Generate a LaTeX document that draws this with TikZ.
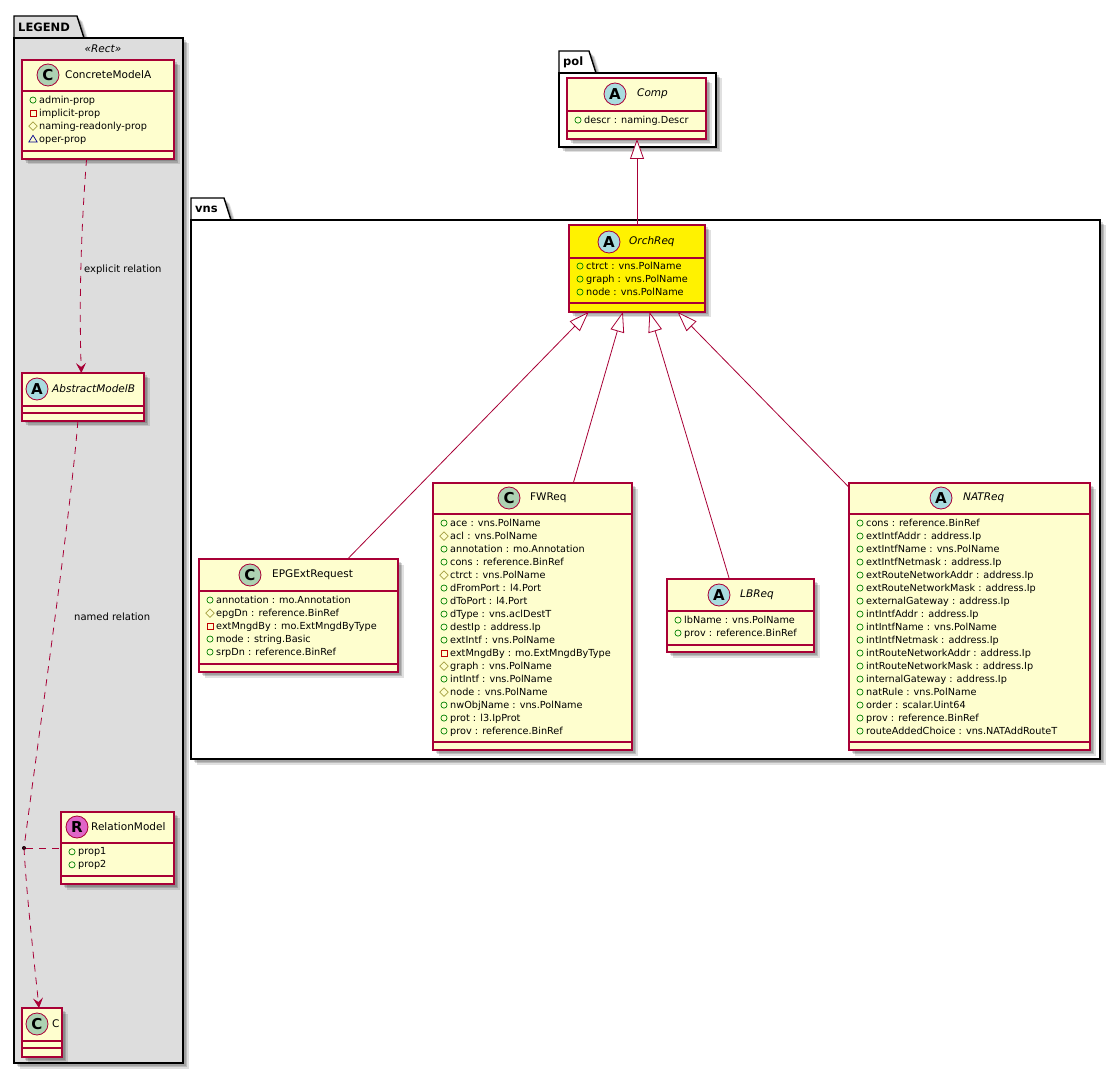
\documentclass[tikz,border=0pt]{standalone}
\usepackage{fontspec}
\setmainfont{DejaVu Sans}
\usepackage{tikz}
\usetikzlibrary{arrows.meta,shadows,calc}
\definecolor{umlRed}{HTML}{A80036}
\definecolor{umlCream}{HTML}{FEFECE}
\definecolor{spotC}{HTML}{ADD1B2}
\definecolor{spotA}{HTML}{A9DCDF}
\definecolor{spotR}{HTML}{E065C8}
\definecolor{legendGray}{HTML}{DDDDDD}
\newcommand{\attrFont}{\fontsize{9.7}{13}\selectfont}
\newcommand{\iconPub}{%
  \begin{tikzpicture}[x=1pt,y=1pt,baseline=0pt]
    \useasboundingbox(0,-1)rectangle(10,7);
    \draw[line width=0.7pt,draw=green!50!black](3.8,3)circle(3.1);
  \end{tikzpicture}}
\newcommand{\iconProt}{%
  \begin{tikzpicture}[x=1pt,y=1pt,baseline=0pt]
    \useasboundingbox(0,-1)rectangle(10,7);
    \draw[line width=0.7pt,draw=yellow!60!black](3.8,7.2)--(8,3)--(3.8,-1.2)--(-0.4,3)--cycle;
  \end{tikzpicture}}
\newcommand{\iconPriv}{%
  \begin{tikzpicture}[x=1pt,y=1pt,baseline=0pt]
    \useasboundingbox(0,-1)rectangle(10,7);
    \draw[line width=0.7pt,draw=red!75!black](0.8,0)rectangle(6.8,6);
  \end{tikzpicture}}
\newcommand{\iconPkg}{%
  \begin{tikzpicture}[x=1pt,y=1pt,baseline=0pt]
    \useasboundingbox(0,-1)rectangle(10,7);
    \draw[line width=0.7pt,draw=blue!55!black](-0.4,0)--(8,0)--(3.8,6.8)--cycle;
  \end{tikzpicture}}

\begin{document}
\begin{tikzpicture}[
  x=1pt,y=-1pt,
  softshadow/.style={
    general shadow={shadow xshift=2.5pt,shadow yshift=-2.5pt,fill=black,fill opacity=.14},
    general shadow={shadow xshift=4pt,shadow yshift=-4pt,fill=black,fill opacity=.16},
    general shadow={shadow xshift=5.5pt,shadow yshift=-5.5pt,fill=black,fill opacity=.12}},
  pkgbox/.style={rectangle,draw=black,line width=1.4pt,fill=white,inner sep=0pt,outer sep=0pt,softshadow},
  pkgtab/.style={draw=black,line width=1.4pt,fill=white,softshadow},
  pkglbl/.style={font=\fontsize{11.5}{14}\selectfont\bfseries,inner sep=0pt},
  umlclass/.style={rectangle,draw=umlRed,line width=1.1pt,fill=umlCream,inner sep=0pt,outer sep=0pt,softshadow},
  spot/.style={circle,draw=umlRed,line width=0.8pt,minimum size=22pt,inner sep=0pt,
    font=\fontsize{15}{15}\selectfont\bfseries},
  title/.style={anchor=west,inner sep=0pt,font=\fontsize{10.5}{13}\selectfont},
  attrs/.style={anchor=north west,inner sep=0pt,align=left,font=\attrFont},
  rellbl/.style={anchor=west,inner sep=0pt,font=\fontsize{10}{13}\selectfont},
  classrule/.style={draw=umlRed,line width=1.1pt},
  inherit/.style={draw=umlRed,line width=0.8pt,-{Triangle[open,fill=white,length=20pt,width=14pt]}},
  depend/.style={draw=umlRed,line width=0.8pt,dash pattern=on 7pt off 6pt,
    -{Stealth[length=10pt,width=10pt,inset=4pt]}}
]
\useasboundingbox(0,0)rectangle(1120,1075);

% packages
\draw[pkgtab](191,220)--(191,198)--(224,198)--(231,220)--cycle;
\node[pkglbl,anchor=west](vnsLbl) at (195,209){vns};
\node[pkgbox,minimum width=909pt,minimum height=539pt](vns) at (645.5,489.5){};

\draw[pkgtab](559,73)--(559,51)--(589,51)--(596,73)--cycle;
\node[pkglbl,anchor=west](polLbl) at (563,62){pol};
\node[pkgbox,minimum width=157pt,minimum height=74pt](pol) at (637.5,110){};

\draw[pkgtab,fill=legendGray](14,38)--(14,16)--(77,16)--(84,38)--cycle;
\node[pkglbl,anchor=west](legendLbl) at (18,27){LEGEND};
\node[pkgbox,fill=legendGray,minimum width=169pt,minimum height=1025pt](legend) at (98.5,550.5){};
\node[inner sep=0pt,font=\fontsize{10.5}{13}\selectfont\itshape](rectLbl) at (103,49){«Rect»};

% classes
\node[umlclass,minimum width=152pt,minimum height=99pt](ConcreteModelA) at (98,109.5){};
\node[umlclass,minimum width=122pt,minimum height=48pt](AbstractModelB) at (83,397){};
\node[umlclass,minimum width=113pt,minimum height=72pt](RelationModel) at (117.5,848){};
\node[umlclass,minimum width=40pt,minimum height=49pt](C) at (42,1032.5){};
\node[umlclass,minimum width=139pt,minimum height=61pt](Comp) at (636.5,108.5){};
\node[umlclass,fill=yellow,minimum width=136pt,minimum height=87pt](OrchReq) at (637,268.5){};
\node[umlclass,minimum width=199pt,minimum height=113pt](EPGExtRequest) at (298.5,615.5){};
\node[umlclass,minimum width=199pt,minimum height=267pt](FWReq) at (532.5,616.5){};
\node[umlclass,minimum width=147pt,minimum height=73pt](LBReq) at (740.5,615.5){};
\node[umlclass,minimum width=241pt,minimum height=267pt](NATReq) at (969.5,616.5){};

% compartment rules
\foreach \cls/\ya/\yb in {ConcreteModelA/91/151,AbstractModelB/406/413,RelationModel/843/876,
    C/1041/1048,Comp/111/131,OrchReq/258/303,EPGExtRequest/591/664,FWReq/514/742,
    LBReq/611/645,NATReq/514/742}{
  \draw[classrule](\cls.west |- 0,\ya)--(\cls.east |- 0,\ya);
  \draw[classrule](\cls.west |- 0,\yb)--(\cls.east |- 0,\yb);
}

% spots and titles
\node[spot,fill=spotC](spotConcrete) at (48,75){C};
\node[title](titleConcrete) at (65,75){ConcreteModelA};
\node[spot,fill=spotA](spotAbstract) at (37,389){A};
\node[title,font=\fontsize{10.5}{13}\selectfont\itshape](titleAbstract) at (52,389){AbstractModelB};
\node[spot,fill=spotR](spotRelation) at (77,827){R};
\node[title](titleRelation) at (91,827){RelationModel};
\node[spot,fill=spotC](spotC) at (37,1024){C};
\node[title](titleC) at (52,1024){C};
\node[spot,fill=spotA](spotComp) at (615,94){A};
\node[title,font=\fontsize{10.5}{13}\selectfont\itshape](titleComp) at (637,94){Comp};
\node[spot,fill=spotA](spotOrch) at (609,242){A};
\node[title,font=\fontsize{10.5}{13}\selectfont\itshape](titleOrch) at (629,242){OrchReq};
\node[spot,fill=spotC](spotEPG) at (250,575){C};
\node[title](titleEPG) at (272,575){EPGExtRequest};
\node[spot,fill=spotC](spotFW) at (509,498){C};
\node[title](titleFW) at (530,498){FWReq};
\node[spot,fill=spotA](spotLB) at (719,595){A};
\node[title,font=\fontsize{10.5}{13}\selectfont\itshape](titleLB) at (740,595){LBReq};
\node[spot,fill=spotA](spotNAT) at (941,498){A};
\node[title,font=\fontsize{10.5}{13}\selectfont\itshape](titleNAT) at (963,498){NATReq};

% attributes
\node[attrs](attrConcrete) at (29,95.5){\iconPub admin-prop\\\iconPriv implicit-prop\\
  \iconProt naming-readonly-prop\\\iconPkg oper-prop};
\node[attrs](attrRelation) at (68,847.5){\iconPub prop1\\\iconPub prop2};
\node[attrs](attrComp) at (574,115.5){\iconPub descr : naming.Descr};
\node[attrs](attrOrch) at (576,261.5){\iconPub ctrct : vns.PolName\\\iconPub graph : vns.PolName\\
  \iconPub node : vns.PolName};
\node[attrs](attrEPG) at (206,595.5){\iconPub annotation : mo.Annotation\\\iconProt epgDn : reference.BinRef\\
  \iconPriv extMngdBy : mo.ExtMngdByType\\\iconPub mode : string.Basic\\\iconPub srpDn : reference.BinRef};
\node[attrs](attrFW) at (440,518.5){\iconPub ace : vns.PolName\\\iconProt acl : vns.PolName\\
  \iconPub annotation : mo.Annotation\\\iconPub cons : reference.BinRef\\
  \iconProt ctrct : vns.PolName\\\iconPub dFromPort : l4.Port\\\iconPub dToPort : l4.Port\\
  \iconPub dType : vns.aclDestT\\\iconPub destIp : address.Ip\\\iconPub extIntf : vns.PolName\\
  \iconPriv extMngdBy : mo.ExtMngdByType\\\iconProt graph : vns.PolName\\
  \iconPub intIntf : vns.PolName\\\iconProt node : vns.PolName\\
  \iconPub nwObjName : vns.PolName\\\iconPub prot : l3.IpProt\\\iconPub prov : reference.BinRef};
\node[attrs](attrLB) at (674,615.5){\iconPub lbName : vns.PolName\\\iconPub prov : reference.BinRef};
\node[attrs](attrNAT) at (856,518.5){\iconPub cons : reference.BinRef\\\iconPub extIntfAddr : address.Ip\\
  \iconPub extIntfName : vns.PolName\\\iconPub extIntfNetmask : address.Ip\\
  \iconPub extRouteNetworkAddr : address.Ip\\\iconPub extRouteNetworkMask : address.Ip\\
  \iconPub externalGateway : address.Ip\\\iconPub intIntfAddr : address.Ip\\
  \iconPub intIntfName : vns.PolName\\\iconPub intIntfNetmask : address.Ip\\
  \iconPub intRouteNetworkAddr : address.Ip\\\iconPub intRouteNetworkMask : address.Ip\\
  \iconPub internalGateway : address.Ip\\\iconPub natRule : vns.PolName\\
  \iconPub order : scalar.Uint64\\\iconPub prov : reference.BinRef\\
  \iconPub routeAddedChoice : vns.NATAddRouteT};

% relations
\node[circle,fill=black,inner sep=0pt,minimum size=4pt](assocDot) at (24,848){};
\draw[depend](ConcreteModelA.257.5) .. controls (81,230) and (79,300) .. (AbstractModelB.94.8);
\draw[depend,-](AbstractModelB.258.2) .. controls (70,520) and (38,740) .. (assocDot.center);
\draw[depend](assocDot.center) .. controls (27,900) and (33,950) .. (C.97);
\draw[draw=umlRed,line width=0.8pt,dash pattern=on 7pt off 6pt](assocDot)--(RelationModel.west |- assocDot);
\node[rellbl](lblExplicit) at (84,270){explicit relation};
\node[rellbl](lblNamed) at (74,617){named relation};

\draw[inherit](OrchReq.north)--(Comp.south -| OrchReq.north);
\draw[inherit](EPGExtRequest.49.9)--(OrchReq.222.2);
\draw[inherit](FWReq.73.1)--(OrchReq.252.2);
\draw[inherit](LBReq.107.5)--(OrchReq.286.6);
\draw[inherit](NATReq.133.4)--(OrchReq.313.3);
\end{tikzpicture}
\end{document}
